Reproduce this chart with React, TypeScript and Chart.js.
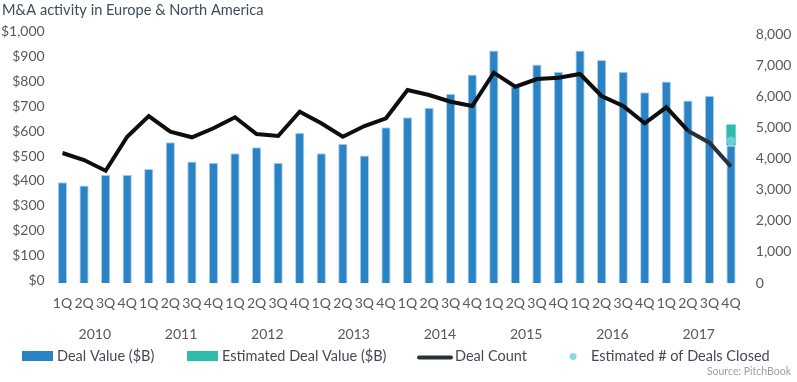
import React, { useEffect, useRef } from "react";
import { Chart, registerables } from "chart.js";

Chart.register(...registerables);

const quarterLabels = [
  "1Q", "2Q", "3Q", "4Q", "1Q", "2Q", "3Q", "4Q",
  "1Q", "2Q", "3Q", "4Q", "1Q", "2Q", "3Q", "4Q",
  "1Q", "2Q", "3Q", "4Q", "1Q", "2Q", "3Q", "4Q",
  "1Q", "2Q", "3Q", "4Q", "1Q", "2Q", "3Q", "4Q",
];
const yearLabels = ["2010", "2011", "2012", "2013", "2014", "2015", "2016", "2017"];

// Deal value ($B)
const dealValue = [
  405, 392, 435, 435, 458, 565, 488, 483,
  521, 545, 483, 603, 521, 559, 512, 626,
  666, 704, 760, 837, 934, 788, 878, 848,
  934, 896, 848, 766, 809, 733, 752, 552,
];
// Estimated deal value ($B) – only the latest quarter
const estimatedDealValue = [
  null, null, null, null, null, null, null, null,
  null, null, null, null, null, null, null, null,
  null, null, null, null, null, null, null, null,
  null, null, null, null, null, null, null, 85,
];
// Deal count
const dealCount = [
  4177, 3952, 3608, 4700, 5365, 4861, 4681, 4970,
  5324, 4787, 4723, 5504, 5131, 4700, 5044, 5292,
  6201, 6040, 5825, 5687, 6757, 6307, 6554, 6596,
  6715, 6008, 5687, 5131, 5645, 4893, 4508, 3737,
];
// Estimated # of deals closed
const estimatedDeals = [
  null, null, null, null, null, null, null, null,
  null, null, null, null, null, null, null, null,
  null, null, null, null, null, null, null, null,
  null, null, null, null, null, null, null, 4562,
];

const leftTicks = [0, 100, 200, 300, 400, 500, 600, 700, 800, 900, 1000];
const rightTicks = [0, 1000, 2000, 3000, 4000, 5000, 6000, 7000, 8000];

const BLUE = "#2983c4";
const TEAL = "#2ebcab";
const LINE = "#0e0e0e";
const LINE_LATE = "#28323c";
const DOT = "rgba(120, 208, 224, 0.85)";
const TICK = "#595959";
const FONT = "Lato, 'Open Sans', sans-serif";

const decorPlugin = {
  id: "decor",
  afterDraw(chart: any) {
    const ctx = chart.ctx;
    ctx.save();
    // title
    ctx.fillStyle = "#3e4c5a";
    ctx.font = `14.6px ${FONT}`;
    ctx.textBaseline = "middle";
    ctx.textAlign = "left";
    ctx.fillText("M&A activity in Europe & North America", 2, 10);

    // legend
    const ly = 356;
    ctx.font = `14.5px ${FONT}`;
    ctx.fillStyle = BLUE;
    ctx.fillRect(22, 351, 31, 10);
    ctx.fillStyle = "#4a4658";
    ctx.fillText("Deal Value ($B)", 57, ly);

    ctx.fillStyle = TEAL;
    ctx.fillRect(187, 351, 31, 10);
    ctx.fillStyle = "#4a4658";
    ctx.fillText("Estimated Deal Value ($B)", 222, ly);

    ctx.strokeStyle = LINE_LATE;
    ctx.lineWidth = 4;
    ctx.lineCap = "round";
    ctx.beginPath();
    ctx.moveTo(419, 357.5);
    ctx.lineTo(451, 357.5);
    ctx.stroke();
    ctx.fillStyle = "#4a4658";
    ctx.fillText("Deal Count", 455, ly);

    ctx.fillStyle = DOT;
    ctx.beginPath();
    ctx.arc(573, 356.5, 3.5, 0, Math.PI * 2);
    ctx.fill();
    ctx.fillStyle = "#4a4658";
    ctx.fillText("Estimated # of Deals Closed", 591, ly);

    // source
    ctx.fillStyle = "#a0a0a0";
    ctx.font = `10.5px ${FONT}`;
    ctx.textAlign = "right";
    ctx.fillText("Source: PitchBook", 791, 372);
    ctx.restore();
  },
};

export default function App() {
  const ref = useRef<HTMLCanvasElement | null>(null);

  useEffect(() => {
    if (!ref.current) return;
    const chart = new Chart(ref.current, {
      type: "bar",
      data: {
        labels: quarterLabels,
        datasets: [
          {
            type: "bar",
            label: "Deal Value ($B)",
            data: dealValue,
            backgroundColor: BLUE,
            borderColor: "rgba(170, 202, 234, 0.9)",
            borderWidth: { top: 1, left: 1, right: 1, bottom: 0 },
            borderSkipped: false,
            barPercentage: 0.43,
            categoryPercentage: 1,
            yAxisID: "y",
            order: 2,
          },
          {
            type: "bar",
            label: "Estimated Deal Value ($B)",
            data: estimatedDealValue,
            backgroundColor: TEAL,
            borderWidth: 0,
            barPercentage: 0.43,
            categoryPercentage: 1,
            yAxisID: "y",
            order: 3,
          },
          {
            type: "line",
            label: "Deal Count",
            data: dealCount,
            borderColor: LINE,
            borderWidth: 4,
            pointRadius: 0,
            tension: 0,
            yAxisID: "y1",
            order: 1,
            segment: {
              borderColor: (c: any) => (c.p0DataIndex >= 29 ? LINE_LATE : LINE),
            },
          },
          {
            type: "line",
            label: "Estimated # of Deals Closed",
            data: estimatedDeals,
            showLine: false,
            pointRadius: 4.5,
            pointBackgroundColor: DOT,
            pointBorderWidth: 0,
            yAxisID: "y1",
            order: 0,
          },
        ] as any,
      },
      options: {
        animation: false,
        responsive: false,
        layout: { padding: { top: 34, bottom: 29, left: 0, right: 0 } },
        plugins: {
          legend: { display: false },
          title: { display: false },
          tooltip: { enabled: false },
        },
        scales: {
          x: {
            type: "category",
            stacked: true,
            offset: true,
            weight: 0,
            grid: { display: false, drawTicks: false },
            border: { display: false },
            ticks: {
              autoSkip: false,
              maxRotation: 0,
              minRotation: 0,
              padding: 12,
              color: TICK,
              font: { family: FONT, size: 14 },
            },
            afterFit: (s: any) => {
              s.height = 30;
            },
          },
          x2: {
            type: "category",
            labels: yearLabels,
            position: "bottom",
            offset: true,
            weight: 1,
            grid: { display: false, drawTicks: false },
            border: { display: false },
            ticks: {
              autoSkip: false,
              maxRotation: 0,
              padding: 13,
              color: TICK,
              font: { family: FONT, size: 14 },
            },
            afterFit: (s: any) => {
              s.height = 40;
            },
          },
          y: {
            position: "left",
            stacked: true,
            min: 0,
            max: 1000,
            grid: { display: false, drawTicks: false },
            border: { display: false },
            afterBuildTicks: (s: any) => {
              s.ticks = leftTicks.map((v) => ({ value: v }));
            },
            ticks: {
              padding: 7,
              labelOffset: -2.5,
              color: TICK,
              font: { family: FONT, size: 14 },
              callback: (v: any) => "$" + Number(v).toLocaleString("en-US"),
            },
            afterFit: (s: any) => {
              s.width = 51.7;
            },
          },
          y1: {
            position: "right",
            min: 0,
            max: 8000,
            grid: { display: false, drawTicks: false },
            border: { display: false },
            afterBuildTicks: (s: any) => {
              s.ticks = rightTicks.map((v) => ({ value: v }));
            },
            ticks: {
              padding: 14,
              color: TICK,
              font: { family: FONT, size: 14 },
              callback: (v: any) => Number(v).toLocaleString("en-US"),
            },
            afterFit: (s: any) => {
              s.width = 55.2;
            },
          },
        },
      } as any,
      plugins: [decorPlugin],
    });
    return () => chart.destroy();
  }, []);

  return (
    <div style={{ position: "fixed", left: 0, top: 0, width: 797, height: 382, background: "#fff" }}>
      <canvas ref={ref} width={797} height={382} />
    </div>
  );
}
